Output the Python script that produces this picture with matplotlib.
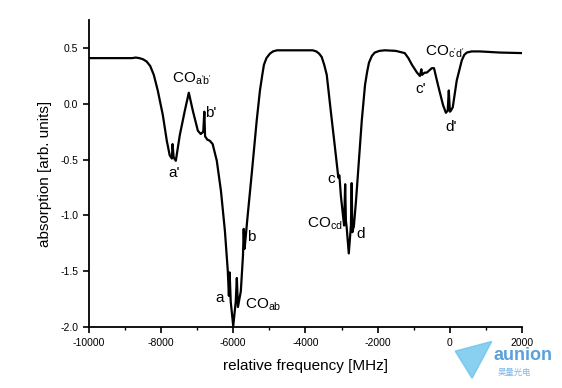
import matplotlib
matplotlib.use("Agg")
import matplotlib.pyplot as plt
from matplotlib.ticker import MultipleLocator

plt.rcParams['font.family'] = ['Liberation Sans', 'Noto Sans CJK SC', 'DejaVu Sans']
plt.rcParams['axes.unicode_minus'] = False

# frequency [MHz] and absorption
freq = [-10000, -9500, -9000, -8800, -8700, -8600, -8500, -8400, -8300, -8200, -8090,
        -7950, -7840, -7760, -7700, -7680, -7650, -7590, -7480, -7340, -7230, -7120,
        -6980, -6900, -6830, -6800, -6780, -6720, -6650, -6570, -6455, -6340, -6230,
        -6150, -6120, -6100, -6070, -6000, -5930, -5900, -5870, -5790, -5730, -5710,
        -5690, -5680, -5600, -5480, -5350, -5260, -5200, -5150, -5080, -4985, -4900,
        -4790, -4300, -3800, -3700, -3620, -3550, -3480, -3410, -3300, -3190, -3110,
        -3090, -3060, -3020, -2960, -2930, -2900, -2880, -2860, -2800, -2740, -2720,
        -2700, -2680, -2660, -2600, -2520, -2440, -2350, -2290, -2240, -2160, -2080,
        -1950, -1800, -1500, -1250, -1150, -1050, -910, -830, -790, -770, -700, -640,
        -500, -440, -330, -190, -110, -60, -30, 0, 30, 80, 190, 330, 400, 470, 600,
        830, 1380, 2000]
absorb = [0.41, 0.41, 0.41, 0.41, 0.415, 0.41, 0.40, 0.38, 0.34, 0.26, 0.12,
          -0.10, -0.33, -0.46, -0.49, -0.36, -0.48, -0.51, -0.28, -0.06, 0.10, -0.06,
          -0.24, -0.27, -0.25, -0.07, -0.29, -0.32, -0.33, -0.36, -0.51, -0.78, -1.14,
          -1.50, -1.72, -1.51, -1.77, -1.99, -1.77, -1.56, -1.82, -1.68, -1.36, -1.12,
          -1.30, -1.28, -1.00, -0.60, -0.15, 0.12, 0.25, 0.35, 0.41, 0.45, 0.47,
          0.48, 0.48, 0.48, 0.47, 0.45, 0.42, 0.35, 0.26, -0.06, -0.37, -0.60,
          -0.66, -0.64, -0.82, -1.00, -1.09, -0.72, -1.05, -1.10, -1.34, -1.09, -0.71,
          -1.15, -1.12, -1.10, -0.87, -0.51, -0.15, 0.17, 0.29, 0.37, 0.43, 0.46,
          0.475, 0.48, 0.475, 0.455, 0.41, 0.35, 0.28, 0.25, 0.31, 0.26, 0.28, 0.28,
          0.32, 0.32, 0.17, -0.01, -0.08, -0.06, 0.12, -0.07, -0.06, -0.03, 0.21, 0.39, 0.44, 0.46, 0.47,
          0.47, 0.46, 0.455]

fig = plt.figure(figsize=(5.62, 3.88), dpi=100)
ax = fig.add_axes([0.158, 0.157, 0.771, 0.791])
ax.plot(freq, absorb, color='black', lw=1.6, solid_joinstyle='round')

ax.set_xlim(-10000, 2000)
ax.set_ylim(-2.0, 0.75)
ax.xaxis.set_major_locator(MultipleLocator(2000))
ax.xaxis.set_minor_locator(MultipleLocator(1000))
ax.set_yticks([-2.0, -1.5, -1.0, -0.5, 0.0, 0.5])
ax.set_yticklabels(['-2.0', '-1.5', '-1.0', '-0.5', '0.0', '0.5'])
ax.tick_params(axis='both', which='major', direction='out', length=4, width=1.2, labelsize=7.5)
ax.tick_params(axis='x', which='minor', direction='out', length=2.5, width=1.0)
for s in ['top', 'right']:
    ax.spines[s].set_visible(False)
for s in ['left', 'bottom']:
    ax.spines[s].set_linewidth(1.3)

ax.set_xlabel('relative frequency [MHz]', fontsize=11, labelpad=8)
ax.set_ylabel('absorption [arb. units]', fontsize=11, labelpad=6)

fs = 11
ax.text(-7700, 0.23, "CO$_{\\mathregular{a'b'}}$", fontsize=fs, ha='left', va='center')
ax.text(-6770, -0.08, "b'", fontsize=fs, ha='left', va='center')
ax.text(-7650, -0.62, "a'", fontsize=fs, ha='center', va='center')
ax.text(-5620, -1.19, "b", fontsize=fs, ha='left', va='center')
ax.text(-6370, -1.74, "a", fontsize=fs, ha='center', va='center')
ax.text(-5670, -1.80, "CO$_{\\mathregular{ab}}$", fontsize=fs, ha='left', va='center')
ax.text(-3300, -0.67, "c", fontsize=fs, ha='center', va='center')
ax.text(-3950, -1.07, "CO$_{\\mathregular{cd}}$", fontsize=fs, ha='left', va='center')
ax.text(-2480, -1.17, "d", fontsize=fs, ha='center', va='center')
ax.text(-810, 0.13, "c'", fontsize=fs, ha='center', va='center')
ax.text(-700, 0.47, "CO$_{\\mathregular{c'd'}}$", fontsize=fs, ha='left', va='center')
ax.text(40, -0.21, "d'", fontsize=fs, ha='center', va='center')

# watermark
fig.text(0.878, 0.085, 'aunion', fontsize=13, color='#5aa0dc', fontweight='bold', ha='left', va='center')
fig.text(0.885, 0.04, '昊量光电', fontsize=6, color='#7fb8e6', ha='left', va='center')
fig.patches.append(plt.Polygon([[0.81, 0.095], [0.875, 0.12], [0.84, 0.025]], closed=True,
                               transform=fig.transFigure, color='#6cc4ec', alpha=0.8))

fig.savefig('out.png', dpi=100)
